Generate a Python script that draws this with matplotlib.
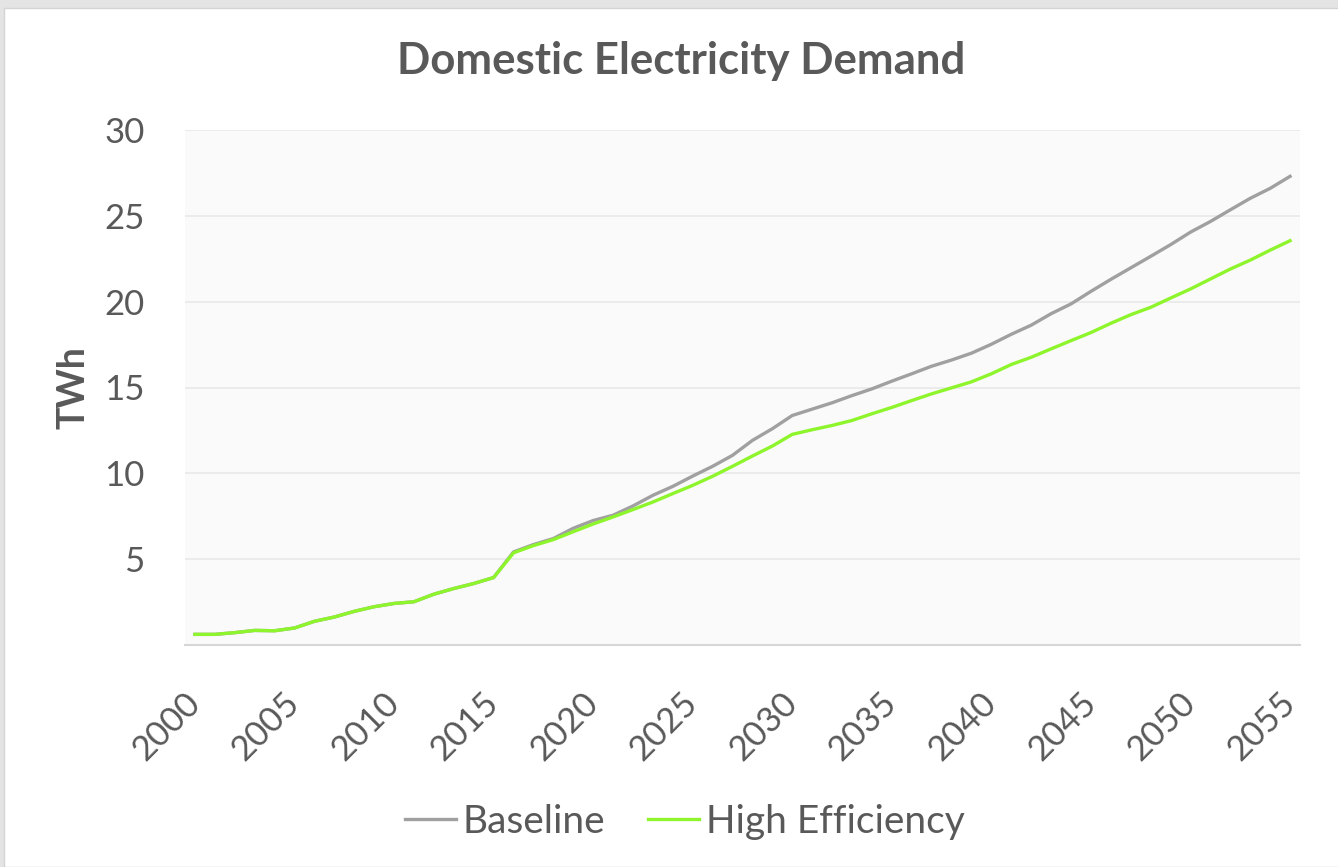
import matplotlib.pyplot as plt
from matplotlib.patches import Rectangle

# Demanda eléctrica doméstica (TWh), 2000-2055
anios = list(range(2000, 2056))

baseline = [0.62, 0.62, 0.72, 0.85, 0.83, 0.99, 1.38, 1.63, 1.96, 2.23,
            2.42, 2.52, 2.96, 3.29, 3.58, 3.93, 5.42, 5.85, 6.2, 6.8,
            7.25, 7.56, 8.10, 8.72, 9.24, 9.84, 10.41, 11.05, 11.92, 12.6,
            13.37, 13.74, 14.11, 14.53, 14.92, 15.37, 15.8, 16.24, 16.6, 17.0,
            17.52, 18.1, 18.63, 19.3, 19.87, 20.6, 21.3, 21.97, 22.64, 23.32,
            24.05, 24.67, 25.35, 26.02, 26.6, 27.3]

alta_eficiencia = [0.62, 0.62, 0.72, 0.85, 0.83, 0.99, 1.38, 1.63, 1.96, 2.23,
                   2.42, 2.52, 2.96, 3.29, 3.58, 3.93, 5.37, 5.79, 6.14, 6.6,
                   7.05, 7.46, 7.89, 8.33, 8.82, 9.30, 9.83, 10.41, 11.01, 11.59,
                   12.27, 12.54, 12.79, 13.08, 13.47, 13.84, 14.24, 14.63, 14.98, 15.33,
                   15.8, 16.34, 16.76, 17.25, 17.73, 18.2, 18.74, 19.24, 19.67, 20.21,
                   20.74, 21.32, 21.9, 22.42, 23.0, 23.55]

ticks_x = list(range(2000, 2056, 5))
ticks_y = [5, 10, 15, 20, 25, 30]

gris_texto = '#595959'
fuente = 'Lato'

fig = plt.figure(figsize=(13.38, 8.67), dpi=100)
fig.patch.set_facecolor('#e4e4e4')
# zona blanca del gráfico
fig.add_artist(Rectangle((4 / 1338, 0), 1, 1 - 8 / 867, transform=fig.transFigure,
                         facecolor='white', edgecolor='#d4d4d4', linewidth=1, zorder=0))

ax = fig.add_axes([185 / 1338, 222 / 867, 1115 / 1338, 515 / 867])
ax.set_facecolor('#fafafa')

ax.plot(anios, baseline, color='#a0a0a0', linewidth=2.4, label='Baseline',
        solid_joinstyle='round')
ax.plot(anios, alta_eficiencia, color='#8ef52c', linewidth=2.4, label='High Efficiency',
        solid_joinstyle='round')

ax.set_xlim(1999.5, 2055.5)
ax.set_ylim(0, 30)
ax.set_yticks(ticks_y)
ax.set_xticks(ticks_x)
ax.grid(axis='y', color='#e8e8e8', linewidth=1.2)
ax.set_axisbelow(True)
for lado in ['top', 'right', 'left']:
    ax.spines[lado].set_visible(False)
ax.spines['bottom'].set_color('#d6d6d6')
ax.spines['bottom'].set_linewidth(1.5)
ax.tick_params(length=0, colors=gris_texto, labelsize=25)
ax.tick_params(axis='y', pad=29)
ax.tick_params(axis='x', pad=38)
for t in ax.get_yticklabels():
    t.set_fontfamily(fuente)
for t in ax.get_xticklabels():
    t.set_fontfamily(fuente)
    t.set_rotation(45)
    t.set_ha('right')
    t.set_va('center')
    t.set_rotation_mode('anchor')

ax.set_ylabel('TWh', fontsize=27, fontweight='bold', color=gris_texto,
              fontfamily=fuente)
ax.yaxis.set_label_coords(-0.085, 0.499)

fig.text(0.509, 0.93, 'Domestic Electricity Demand', ha='center', va='center',
         fontsize=31.5, fontweight='bold', color=gris_texto, fontfamily=fuente)

fig.legend(loc='center', bbox_to_anchor=(0.512, 0.052), ncol=2, frameon=False,
           prop={'family': fuente, 'size': 28}, labelcolor=gris_texto,
           handlelength=1.31, handletextpad=0.18, columnspacing=1.1)

fig.savefig('out.png', dpi=100, facecolor=fig.get_facecolor())
